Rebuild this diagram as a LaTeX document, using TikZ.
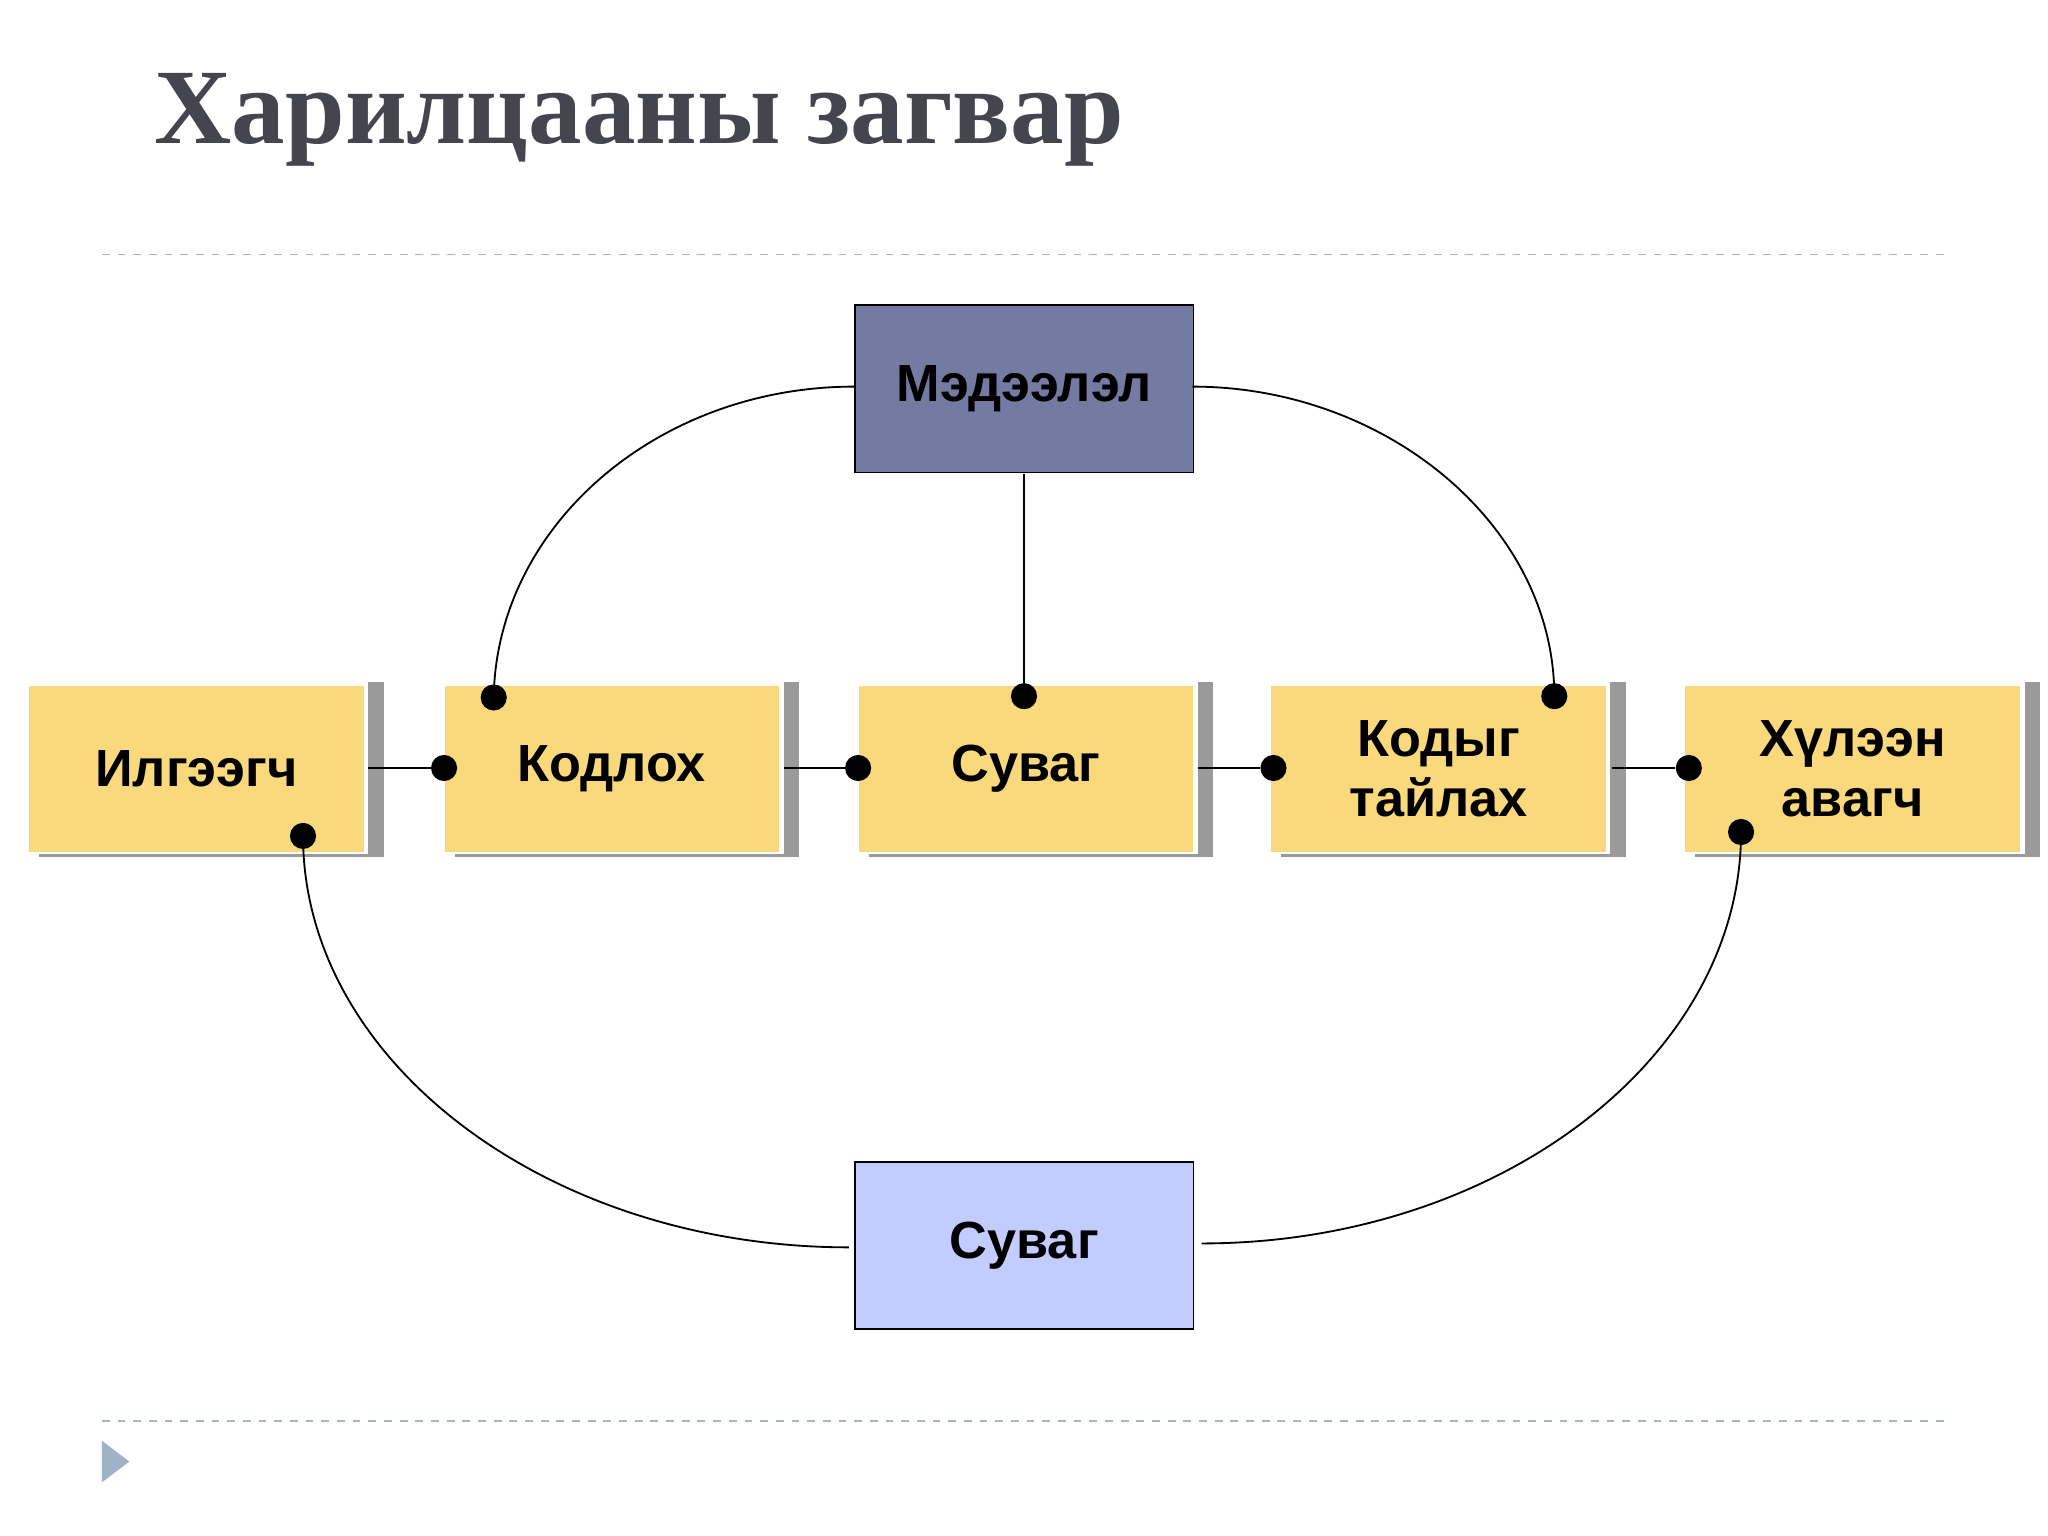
\documentclass[tikz,border=0pt]{standalone}
\usepackage{fontspec}
\setmainfont{Liberation Sans}
\newfontfamily\titlefont{Liberation Serif}
\begin{document}
\begin{tikzpicture}[x=0.5pt,y=-0.5pt,
  ybox/.style={draw=none,fill=boxyellow,minimum width=128pt,minimum height=63.5pt,inner sep=0pt,font=\bfseries\fontsize{20}{23}\selectfont,align=center},
  bigbox/.style={draw=black,line width=0.7pt,minimum width=129.5pt,minimum height=64pt,inner sep=0pt,font=\bfseries\fontsize{20}{23}\selectfont},
  dot/.style={circle,fill=black,minimum size=10pt,inner sep=0pt},
  conn/.style={draw=black,line width=0.7pt},
  sep/.style={draw=sepgray,dashed,line width=0.6pt}]
\definecolor{boxyellow}{HTML}{F9D97C}
\definecolor{shadowgray}{HTML}{9A9A9A}
\definecolor{sepgray}{HTML}{A8B4C0}
\definecolor{titlegray}{HTML}{45454F}
\definecolor{topblue}{HTML}{737BA3}
\definecolor{botblue}{HTML}{C2CCFF}
\definecolor{trigray}{HTML}{9FB2C8}
\useasboundingbox (0,0) rectangle (1568,1176);
\node[anchor=base west,inner sep=0pt,text=titlegray,font=\titlefont\bfseries\fontsize{41}{45}\selectfont] (title) at (118,110) {Харилцааны загвар};
\coordinate (s1a) at (78,195); \coordinate (s1b) at (1490,195);
\coordinate (s2a) at (78,1088); \coordinate (s2b) at (1490,1088);
\draw[sep] (s1a) -- (s1b);
\draw[sep] (s2a) -- (s2b);
\fill[trigray] (78,1103) -- (99,1119) -- (78,1135) -- cycle;
% shadows and boxes
\foreach \x/\n/\t in {22/b1/Илгээгч,340/b2/Кодлох,657/b3/Суваг,973/b4/{Кодыг\\тайлах},1290/b5/{Хүлээн\\авагч}}{
  \fill[shadowgray] (\x+260,522) rectangle (\x+272,656);
  \draw[shadowgray,line width=1pt] (\x+8,655) -- (\x+272,655);
  \node[ybox,anchor=north west] (\n) at (\x,525) {\t};
}
\node[bigbox,fill=topblue,anchor=north west] (top) at (654,233) {Мэдээлэл};
\node[bigbox,fill=botblue,anchor=north west] (bot) at (654,889) {Суваг};
% dots
\node[dot] (d2) at (340,588) {};
\node[dot] (d3) at (657,588) {};
\node[dot] (d4) at (975,588) {};
\node[dot] (d5) at (1293,588) {};
\node[dot] (k) at (378,534) {};
\node[dot] (c) at (784,533) {};
\node[dot] (t) at (1190,533) {};
\node[dot] (s) at (232,640) {};
\node[dot] (r) at (1333,637) {};
\coordinate (e1) at (282,588); \coordinate (e2) at (600,588);
\coordinate (e3) at (917,588); \coordinate (e4) at (1234,588);
\draw[conn] (e1) -- (d2); \draw[conn] (e2) -- (d3);
\draw[conn] (e3) -- (d4); \draw[conn] (e4) -- (d5);
\coordinate (tl) at (654,296); \coordinate (tr) at (913,296);
\coordinate (tb) at (784,363);
\coordinate (bl) at (650,955); \coordinate (br) at (920,952);
\draw[conn] (tl) .. controls (503,296) and (380,403) .. (k.center);
\draw[conn] (tr) .. controls (1062,296) and (1190,403) .. (t.center);
\draw[conn] (tb) -- (c.center);
\draw[conn] (s.center) .. controls (232,813) and (420,955) .. (bl);
\draw[conn] (r.center) .. controls (1333,810) and (1147,952) .. (br);
\end{tikzpicture}
\end{document}
